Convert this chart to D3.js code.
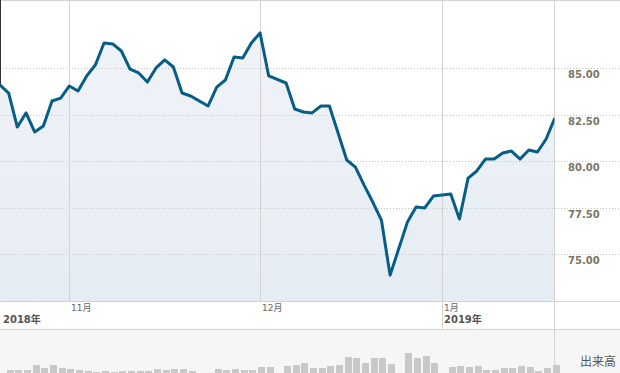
<!DOCTYPE html>
<html>
<head>
<meta charset="utf-8">
<script src="https://cdn.jsdelivr.net/npm/d3@7"></script>
<style>
  body { margin: 0; background: #fff; }
  svg { display: block; }
</style>
</head>
<body>
<div class="chart-area"></div>
<script>
// trading days (weekday holidays left out)
var dates = [
  "2018-10-22","2018-10-23","2018-10-24","2018-10-25","2018-10-26",
  "2018-10-29","2018-10-30","2018-10-31","2018-11-01","2018-11-02",
  "2018-11-05","2018-11-06","2018-11-07","2018-11-08","2018-11-09",
  "2018-11-12","2018-11-13","2018-11-14","2018-11-15","2018-11-16",
  "2018-11-19","2018-11-20","2018-11-21","2018-11-23",
  "2018-11-26","2018-11-27","2018-11-28","2018-11-29","2018-11-30",
  "2018-12-03","2018-12-04","2018-12-06","2018-12-07",
  "2018-12-10","2018-12-11","2018-12-12","2018-12-13","2018-12-14",
  "2018-12-17","2018-12-18","2018-12-19","2018-12-20","2018-12-21",
  "2018-12-24","2018-12-26","2018-12-27","2018-12-28",
  "2018-12-31","2019-01-02","2019-01-03","2019-01-04",
  "2019-01-07","2019-01-08","2019-01-09","2019-01-10","2019-01-11",
  "2019-01-14","2019-01-15","2019-01-16","2019-01-17","2019-01-18"
];
var prices = [
  84.10, 83.67, 81.84, 82.60, 81.58,
  81.90, 83.24, 83.40, 84.05, 83.78,
  84.59, 85.18, 86.36, 86.31, 85.93,
  84.96, 84.75, 84.26, 85.02, 85.45,
  85.07, 83.67, 83.51, 82.97,
  83.99, 84.37, 85.61, 85.55, 86.36,
  86.90, 84.59, 84.21, 82.81,
  82.65, 82.60, 82.97, 82.97, 81.52,
  80.07, 79.69, 78.72, 77.81, 76.84,
  73.88, 76.73, 77.54, 77.49,
  78.13, 78.24, 76.90, 79.10,
  79.48, 80.12, 80.12, 80.45, 80.55,
  80.12, 80.61, 80.50, 81.20, 82.33
];
// volume, millions (approx.)
var volumes = [
  20, 25, 25, 25, 30,
  27, 30, 27, 26, 25,
  24, 23, 24, 23, 24,
  24, 24, 24, 26, 25,
  26, 26, 24, 15,
  26, 25, 26, 25, 25,
  28, 28, 29, 30,
  32, 27, 27, 29, 30,
  38, 37, 32, 37, 37,
  31, 42, 37, 39,
  32, 28, 29, 28,
  29, 25, 25, 27, 27,
  29, 28, 24, 27, 30
];
var yTicks = [85, 82.5, 80, 77.5, 75];
var monthTicks = [
  { date: "2018-11-01", label: "11月", year: null },
  { date: "2018-12-03", label: "12月", year: null },
  { date: "2019-01-01", label: "1月", year: "2019年" }
];
var firstYear = "2018年";

var W = 620, H = 373;
var plotRight = 554.5, plotBottom = 301, axisBottom = 329;

var parse = d3.timeParse("%Y-%m-%d");
var start = parse(dates[0]);
// weekday position: weekends skipped, holidays keep their slot
function wd(s) {
  var days = d3.timeDay.count(start, parse(s));
  return Math.floor(days / 7) * 5 + (days % 7);
}

var data = dates.map(function(d, i) {
  return { pos: wd(d), price: prices[i], vol: volumes[i] };
});

var x = d3.scaleLinear()
  .domain([0, d3.max(data, function(d) { return d.pos; })])
  .range([0, 554.8]);
var y = d3.scaleLinear().domain([75, 85]).range([254.3, 68.3]);
var yv = d3.scaleLinear().domain([0, 50]).range([395, 345]);

var svg = d3.select(".chart-area").append("svg")
  .attr("width", W)
  .attr("height", H);

var defs = svg.append("defs");
var grad = defs.append("linearGradient")
  .attr("id", "fillGrad")
  .attr("x1", 0).attr("y1", 0).attr("x2", 0).attr("y2", 1);
grad.append("stop").attr("offset", "0%").attr("stop-color", "#f0f3f8");
grad.append("stop").attr("offset", "100%").attr("stop-color", "#e6ecf4");
defs.append("clipPath").attr("id", "plotClip")
  .append("rect").attr("x", 0).attr("y", 1).attr("width", plotRight).attr("height", plotBottom - 1);

// volume panel background
svg.append("rect")
  .attr("x", 0).attr("y", axisBottom + 1)
  .attr("width", W).attr("height", H - axisBottom - 1)
  .attr("fill", "#f6f6f6");

// area under price
var area = d3.area()
  .x(function(d) { return x(d.pos); })
  .y0(plotBottom)
  .y1(function(d) { return y(d.price); });
svg.append("path")
  .datum(data)
  .attr("clip-path", "url(#plotClip)")
  .attr("fill", "url(#fillGrad)")
  .attr("d", area);

// horizontal dotted grid
svg.selectAll("line.hgrid")
  .data(yTicks)
  .enter()
  .append("line")
  .attr("class", "hgrid")
  .attr("x1", 0).attr("x2", W)
  .attr("y1", function(d) { return Math.round(y(d)) + 0.5; })
  .attr("y2", function(d) { return Math.round(y(d)) + 0.5; })
  .attr("stroke", "#c4c4c4")
  .attr("stroke-dasharray", "1,2");

// month grid lines
svg.selectAll("line.vgrid")
  .data(monthTicks)
  .enter()
  .append("line")
  .attr("class", "vgrid")
  .attr("x1", function(d) { return Math.round(x(wd(d.date))) + 0.5; })
  .attr("x2", function(d) { return Math.round(x(wd(d.date))) + 0.5; })
  .attr("y1", 0)
  .attr("y2", function(d) { return d.year ? axisBottom : plotBottom; })
  .attr("stroke", "#d2d2d2");

// frame lines
svg.append("line").attr("x1", 0).attr("x2", W).attr("y1", 0.5).attr("y2", 0.5).attr("stroke", "#d2d2d2");
svg.append("line").attr("x1", 0).attr("x2", W).attr("y1", plotBottom + 0.5).attr("y2", plotBottom + 0.5).attr("stroke", "#d2d2d2");
svg.append("line").attr("x1", 0).attr("x2", W).attr("y1", axisBottom + 0.5).attr("y2", axisBottom + 0.5).attr("stroke", "#d2d2d2");
svg.append("line").attr("x1", plotRight).attr("x2", plotRight).attr("y1", 0).attr("y2", H).attr("stroke", "#d2d2d2");
svg.append("line").attr("x1", 0.5).attr("x2", 0.5).attr("y1", 0).attr("y2", y(prices[0])).attr("stroke", "#333");

// volume bars
svg.selectAll("rect.vol")
  .data(data)
  .enter()
  .append("rect")
  .attr("class", "vol")
  .attr("x", function(d) { return Math.round(x(d.pos)) - 2; })
  .attr("width", 7)
  .attr("y", function(d) { return yv(d.vol); })
  .attr("height", function(d) { return yv(0) - yv(d.vol); })
  .attr("fill", "#c8c8c8");

// price line
var line = d3.line()
  .x(function(d) { return x(d.pos); })
  .y(function(d) { return y(d.price); });
svg.append("path")
  .datum(data)
  .attr("clip-path", "url(#plotClip)")
  .attr("fill", "none")
  .attr("stroke", "#065d86")
  .attr("stroke-width", 3)
  .attr("stroke-linejoin", "round")
  .attr("d", line);

// y labels
svg.selectAll("text.ylab")
  .data(yTicks)
  .enter()
  .append("text")
  .attr("class", "ylab")
  .attr("x", 568)
  .attr("y", function(d) { return y(d) + 10; })
  .attr("font-family", "DejaVu Sans, Verdana, sans-serif")
  .attr("font-weight", "bold")
  .attr("font-size", "10px")
  .attr("fill", "#7b7664")
  .text(function(d) { return d3.format(".2f")(d); });

// month labels
svg.selectAll("text.month")
  .data(monthTicks)
  .enter()
  .append("text")
  .attr("class", "month")
  .attr("x", function(d) { return Math.round(x(wd(d.date))) + 2; })
  .attr("y", 311)
  .attr("font-family", "DejaVu Sans, Noto Sans CJK JP, sans-serif")
  .attr("font-size", "9px")
  .attr("fill", "#666")
  .text(function(d) { return d.label; });

// year labels
var years = [{ x: 3, label: firstYear }].concat(
  monthTicks.filter(function(d) { return d.year; }).map(function(d) {
    return { x: Math.round(x(wd(d.date))) + 2, label: d.year };
  }));
svg.selectAll("text.year")
  .data(years)
  .enter()
  .append("text")
  .attr("class", "year")
  .attr("x", function(d) { return d.x; })
  .attr("y", 323)
  .attr("font-family", "DejaVu Sans, Noto Sans CJK JP, sans-serif")
  .attr("font-weight", "bold")
  .attr("font-size", "10px")
  .attr("fill", "#555")
  .text(function(d) { return d.label; });

svg.append("text")
  .attr("x", 580)
  .attr("y", 366)
  .attr("font-family", "Noto Sans CJK JP, sans-serif")
  .attr("font-size", "12px")
  .attr("fill", "#555")
  .text("出来高");
</script>
</body>
</html>
